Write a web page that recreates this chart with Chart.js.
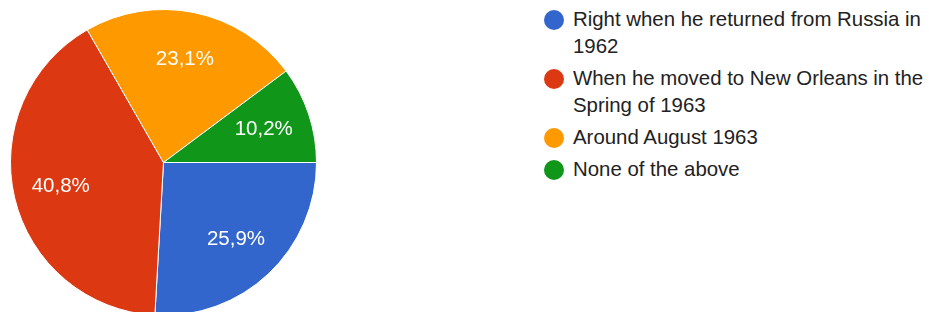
<!DOCTYPE html>
<html>
<head>
<meta charset="utf-8">
<script src="https://cdn.jsdelivr.net/npm/chart.js@4"></script>
<style>
  html, body { margin: 0; padding: 0; background: #fff; overflow: hidden; }
  body { width: 929px; height: 312px; position: relative; font-family: Arial, "Liberation Sans", sans-serif; }
  #pieBox { position: absolute; left: 10px; top: 9px; width: 307px; height: 307px; }
  #legend { position: absolute; left: 573px; top: 6px; width: 356px; margin: 0; padding: 0; list-style: none; }
  #legend li { position: relative; font-size: 20.4px; line-height: 27px; color: #222; margin-bottom: 5px; }
  #legend li span.dot { position: absolute; left: -29px; top: 3.5px; width: 20px; height: 20px; border-radius: 50%; }
</style>
</head>
<body>
<div id="pieBox"><canvas id="myChart"></canvas></div>
<ul id="legend"></ul>
<script>
const answers = [
  "Right when he returned from Russia in 1962",
  "When he moved to New Orleans in the Spring of 1963",
  "Around August 1963",
  "None of the above"
];
const shares = [25.9, 40.8, 23.1, 10.2];
const sliceColors = ["#3366cc", "#dc3912", "#ff9900", "#109618"];

// white percentage text inside each slice
const sliceLabels = {
  id: "sliceLabels",
  afterDatasetsDraw(chart) {
    const ctx = chart.ctx;
    const meta = chart.getDatasetMeta(0);
    ctx.save();
    ctx.fillStyle = "#fff";
    ctx.font = "20.5px Arial, 'Liberation Sans', sans-serif";
    ctx.textAlign = "center";
    ctx.textBaseline = "middle";
    meta.data.forEach((arc, i) => {
      const p = arc.getProps(["x", "y", "startAngle", "endAngle", "outerRadius"], true);
      const mid = (p.startAngle + p.endAngle) / 2;
      const r = p.outerRadius * 0.69;
      const text = chart.data.datasets[0].data[i].toFixed(1).replace(".", ",") + "%";
      ctx.fillText(text, p.x + Math.cos(mid) * r, p.y + Math.sin(mid) * r);
    });
    ctx.restore();
  }
};

const chart = new Chart("myChart", {
  type: "pie",
  data: {
    labels: answers,
    datasets: [{
      data: shares,
      backgroundColor: sliceColors,
      borderColor: "#fff",
      borderWidth: 1
    }]
  },
  options: {
    responsive: true,
    maintainAspectRatio: false,
    animation: false,
    rotation: 90,
    plugins: {
      legend: { display: false },
      tooltip: { enabled: false }
    }
  },
  plugins: [sliceLabels]
});

const legend = document.getElementById("legend");
chart.data.labels.forEach((label, i) => {
  const li = document.createElement("li");
  const dot = document.createElement("span");
  dot.className = "dot";
  dot.style.background = chart.data.datasets[0].backgroundColor[i];
  li.appendChild(dot);
  li.appendChild(document.createTextNode(label));
  legend.appendChild(li);
});
</script>
</body>
</html>
